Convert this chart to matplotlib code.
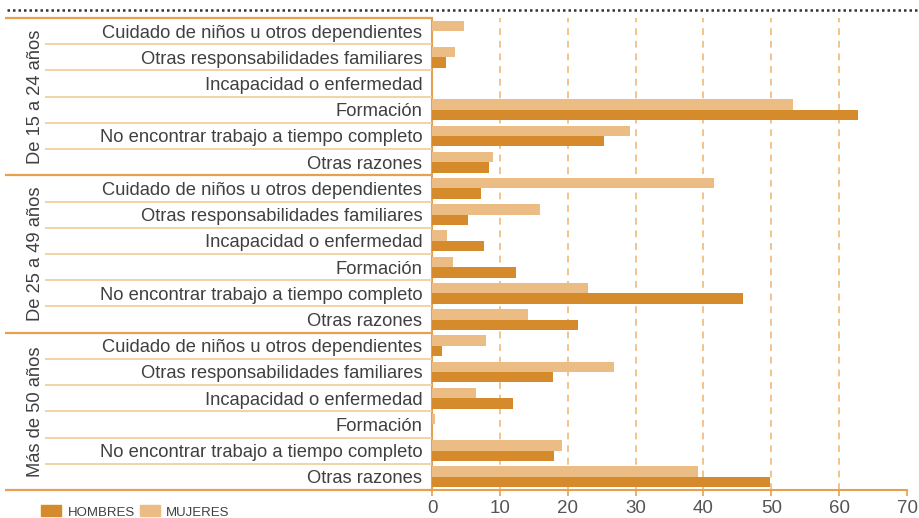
import matplotlib
matplotlib.use('Agg')
import matplotlib.pyplot as plt
from matplotlib.lines import Line2D
from matplotlib.patches import Patch

plt.rcParams['font.family'] = ['Liberation Sans', 'DejaVu Sans']

# Datos (porcentajes)
grupos = ['De 15 a 24 años', 'De 25 a 49 años', 'Más de 50 años']
razones = ['Cuidado de niños u otros dependientes',
           'Otras responsabilidades familiares',
           'Incapacidad o enfermedad',
           'Formación',
           'No encontrar trabajo a tiempo completo',
           'Otras razones']

hombres_15_24 = [0.0, 2.1, 0.0, 62.8, 25.3, 8.4]
mujeres_15_24 = [4.7, 3.4, 0.0, 53.2, 29.2, 9.0]
hombres_25_49 = [7.2, 5.3, 7.7, 12.4, 45.8, 21.5]
mujeres_25_49 = [41.6, 15.9, 2.2, 3.1, 23.0, 14.1]
hombres_50 = [1.5, 17.8, 12.0, 0.0, 18.0, 49.8]
mujeres_50 = [8.0, 26.8, 6.5, 0.4, 19.1, 39.2]

xticks = [0, 10, 20, 30, 40, 50, 60, 70]

hombres = hombres_15_24 + hombres_25_49 + hombres_50
mujeres = mujeres_15_24 + mujeres_25_49 + mujeres_50
etiquetas = razones * len(grupos)

c_h = '#D58A2B'
c_m = '#EBBD85'
c_linea = '#E6A04E'
c_fila = '#F3CB98'
c_grid = '#F2C48C'
c_texto = '#404040'

W, H = 919, 518
fig = plt.figure(figsize=(W / 100, H / 100), dpi=100)
ax = fig.add_axes([432 / W, 28 / H, 475 / W, 472 / H])

n = len(etiquetas)
pos = [i + 0.5 for i in range(n)]
ax.barh([p - 0.2 for p in pos], mujeres, height=0.4, color=c_m, zorder=3)
ax.barh([p + 0.2 for p in pos], hombres, height=0.4, color=c_h, zorder=3)

ax.set_xlim(0, 70)
ax.set_ylim(n, 0)
for x in xticks[1:-1]:
    ax.axvline(x, color=c_grid, lw=1.4, linestyle=(0, (3.5, 3)), zorder=1)

ax.set_xticks(xticks)
ax.tick_params(axis='x', colors=c_linea, length=4, width=1.2, pad=3,
               labelsize=13.5, labelcolor='#555555')
ax.set_yticks(pos)
ax.set_yticklabels(etiquetas)
ax.tick_params(axis='y', length=0, pad=7, labelsize=13.2, labelcolor=c_texto)

for s in ['top', 'right']:
    ax.spines[s].set_visible(False)
for s in ['left', 'bottom']:
    ax.spines[s].set_color(c_linea)
    ax.spines[s].set_linewidth(1.5)

# panel izquierdo: separadores y nombres de grupo
axl = fig.add_axes([0, 28 / H, 432 / W, 472 / H])
axl.set_xlim(0, 432)
axl.set_ylim(n, 0)
axl.axis('off')
for k in range(1, n):
    if k % 6:
        axl.hlines(k, 45, 432, color=c_fila, lw=1.2, clip_on=False)
for k in range(0, n + 1, 6):
    axl.hlines(k, 5, 432, color=c_linea, lw=1.6, clip_on=False)
for g, nombre in enumerate(grupos):
    axl.text(35, 6 * g + 3, nombre, rotation=90, ha='center', va='center',
             fontsize=13.2, color=c_texto)

# línea punteada superior
fig.add_artist(Line2D([7 / W, 1], [1 - 10 / H, 1 - 10 / H], transform=fig.transFigure,
                      color='#333333', lw=1.8, linestyle=(0, (1, 1.2))))

# leyenda
handles = [Patch(color=c_h, label='HOMBRES'), Patch(color=c_m, label='MUJERES')]
fig.legend(handles=handles, loc='center left', bbox_to_anchor=(41 / W, 1 - 512 / H),
           ncol=2, frameon=False, fontsize=9.5, borderpad=0, borderaxespad=0,
           handlelength=1.55, handleheight=0.9, handletextpad=0.45,
           columnspacing=0.4, labelcolor=c_texto)

fig.savefig('out.png', dpi=100)
